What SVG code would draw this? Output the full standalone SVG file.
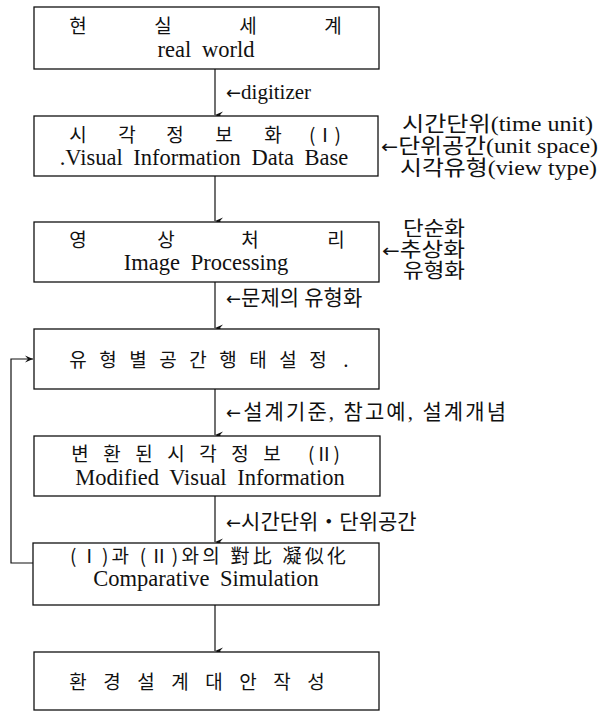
<svg xmlns="http://www.w3.org/2000/svg" width="605" height="713" viewBox="0 0 605 713">
<style>
.box{fill:#fff;stroke:#111;stroke-width:1.3}
.k{font-family:"Noto Sans CJK KR",sans-serif;font-size:19px;fill:#111;text-anchor:middle}
.e{font-family:"Liberation Serif","Noto Sans CJK KR",serif;font-size:22.5px;fill:#111;text-anchor:middle;word-spacing:5px}
.l{font-family:"Liberation Serif","Noto Sans CJK KR",serif;font-size:21px;fill:#111}
.s{font-family:"Liberation Serif","Noto Sans CJK KR",serif;font-size:20px;fill:#111}
.ar{font-family:"DejaVu Sans",sans-serif;font-size:18px}
.c{fill:none;stroke:#111;stroke-width:1.2}
</style>
<defs>
<marker id="ah" markerWidth="8" markerHeight="8" refX="4" refY="8" orient="auto" markerUnits="userSpaceOnUse" viewBox="0 0 8 8">
<path d="M0.5,0 L4,8 L7.5,0 L4,3 Z" fill="#111"/>
</marker>
<marker id="ahr" markerWidth="8" markerHeight="8" refX="8" refY="4" markerUnits="userSpaceOnUse" viewBox="0 0 8 8">
<path d="M0,0.5 L8,4 L0,7.5 L3,4 Z" fill="#111"/>
</marker>
</defs>
<rect width="605" height="713" fill="#fff"/>

<g id="connectors">
<line class="c" x1="215" y1="69" x2="215" y2="115" marker-end="url(#ah)"/>
<line class="c" x1="215" y1="176" x2="215" y2="221" marker-end="url(#ah)"/>
<line class="c" x1="215" y1="282" x2="215" y2="328" marker-end="url(#ah)"/>
<line class="c" x1="215" y1="389" x2="215" y2="435" marker-end="url(#ah)"/>
<line class="c" x1="215" y1="496" x2="215" y2="542" marker-end="url(#ah)"/>
<line class="c" x1="215" y1="605" x2="215" y2="651" marker-end="url(#ah)"/>
<polyline class="c" points="33,563 11,563 11,359 33,359" marker-end="url(#ahr)"/>
<text class="l" x="226" y="99"><tspan class="ar">←</tspan>digitizer</text>
<text class="l" x="226" y="305"><tspan class="ar">←</tspan>문제의 유형화</text>
<text class="l" x="226" y="419" textLength="280"><tspan class="ar">←</tspan>설계기준, 참고예, 설계개념</text>
<text class="l" x="226" y="529"><tspan class="ar">←</tspan>시간단위・단위공간</text>
<text class="l" x="402" y="131" textLength="191" lengthAdjust="spacingAndGlyphs">시간단위(time unit)</text>
<text class="l" x="381" y="153" textLength="217" lengthAdjust="spacingAndGlyphs"><tspan class="ar">←</tspan>단위공간(unit space)</text>
<text class="l" x="400" y="175" textLength="197" lengthAdjust="spacingAndGlyphs">시각유형(view type)</text>
<text class="s" x="403" y="236" textLength="62" lengthAdjust="spacingAndGlyphs">단순화</text>
<text class="s" x="382" y="257" textLength="83" lengthAdjust="spacingAndGlyphs"><tspan class="ar">←</tspan>추상화</text>
<text class="s" x="403" y="278" textLength="62" lengthAdjust="spacingAndGlyphs">유형화</text>
</g>

<g id="n1">
<rect class="box" x="34" y="7" width="345" height="62"/>
<text class="k" x="78 163 248 333" y="33">현실세계</text>
<text class="e" x="206" y="57">real world</text>
</g>

<g id="n2">
<rect class="box" x="34" y="116" width="344" height="60"/>
<text class="k" x="78 127 175 224 273" y="142">시각정보화</text>
<text class="k" x="325" y="142">(Ⅰ)</text>
<text class="e" x="204" y="165">.Visual Information Data Base</text>
</g>

<g id="n3">
<rect class="box" x="34" y="222" width="345" height="60"/>
<text class="k" x="78 166 250 336" y="247">영상처리</text>
<text class="e" x="206" y="270">Image Processing</text>
</g>

<g id="n4">
<rect class="box" x="34" y="329" width="345" height="60"/>
<text class="k" x="78 108 138 168 198 228 258 288 318 346" y="367">유형별공간행태설정.</text>
</g>

<g id="n5">
<rect class="box" x="34" y="436" width="346" height="60"/>
<text class="k" x="80 112 144 176 208 240 272" y="461">변환된시각정보</text>
<text class="k" x="324" y="461">(Ⅱ)</text>
<text class="e" x="210" y="485">Modified Visual Information</text>
</g>

<g id="n6">
<rect class="box" x="33" y="543" width="346" height="62"/>
<text class="k" x="208" y="563" textLength="276">(Ⅰ)과 (Ⅱ)와의 對比 凝似化</text>
<text class="e" x="206" y="586">Comparative Simulation</text>
</g>

<g id="n7">
<rect class="box" x="34" y="652" width="345" height="58"/>
<text class="k" x="78 112 146 180 214 248 282 316" y="689">환경설계대안작성</text>
</g>
</svg>
